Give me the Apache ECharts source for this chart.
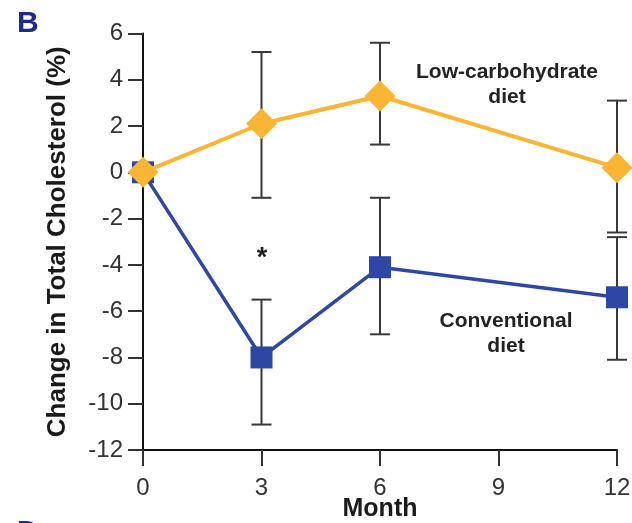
<!DOCTYPE html>
<html>
<head>
<meta charset="utf-8">
<script src="https://cdn.jsdelivr.net/npm/echarts@6/dist/echarts.min.js"></script>
<style>
html,body{margin:0;padding:0;background:#fff;}
#chart{width:632px;height:523px;}
</style>
</head>
<body>
<div id="chart"></div>
<script>
// ---- data ----
const months = [0, 3, 6, 12];
const xTicks = [0, 3, 6, 9, 12];
const yTicks = [-12, -10, -8, -6, -4, -2, 0, 2, 4, 6];

const lowCarbMean  = [0, 2.1, 3.3, 0.2];
const lowCarbLower = [0, -1.1, 1.2, -2.6];
const lowCarbUpper = [0, 5.2, 5.6, 3.1];

const convMean  = [0, -8.0, -4.1, -5.4];
const convLower = [0, -10.9, -7.0, -8.1];
const convUpper = [0, -5.5, -1.1, -2.8];

const yTitle = 'Change in Total Cholesterol (%)';
const xTitle = 'Month';
const lowCarbLabel = 'Low-carbohydrate\ndiet';
const convLabel = 'Conventional\ndiet';
const sigMark = '*';

// ---- styles ----
const FONT = '"Liberation Sans", Arial, Helvetica, sans-serif';
const ORANGE = '#fbb534';
const BLUE = '#2e46a4';
const ERR = '#383838';

function pairs(xs, ys) { return xs.map((x, i) => [x, ys[i]]); }
function errData(xs, lo, hi) { return xs.map((x, i) => [x, lo[i], hi[i]]); }

function errRender(params, api) {
  const x = api.value(0), lo = api.value(1), hi = api.value(2);
  if (lo === hi) return null;
  const pTop = api.coord([x, hi]);
  const pBot = api.coord([x, lo]);
  const w = 10;
  const st = { stroke: ERR, lineWidth: 2 };
  return {
    type: 'group',
    children: [
      { type: 'line', shape: { x1: pTop[0], y1: pTop[1], x2: pBot[0], y2: pBot[1] }, style: st },
      { type: 'line', shape: { x1: pTop[0] - w, y1: pTop[1], x2: pTop[0] + w, y2: pTop[1] }, style: st },
      { type: 'line', shape: { x1: pBot[0] - w, y1: pBot[1], x2: pBot[0] + w, y2: pBot[1] }, style: st }
    ]
  };
}

const chart = echarts.init(document.getElementById('chart'), null, { renderer: 'canvas' });

const option = {
  animation: false,
  backgroundColor: '#fff',
  grid: { left: 143, right: 15, top: 33.5, bottom: 73, outerBoundsMode: 'none', containLabel: false },
  xAxis: {
    type: 'value', min: xTicks[0], max: xTicks[xTicks.length - 1], interval: 3,
    name: xTitle, nameLocation: 'middle', nameGap: 47, nameMoveOverlap: false,
    nameTextStyle: { fontFamily: FONT, fontWeight: 'bold', fontSize: 25, color: '#1a1a1a' },
    axisLine: { show: true, onZero: false, lineStyle: { color: '#111', width: 2 } },
    axisTick: { show: true, inside: false, length: 16, lineStyle: { color: '#333', width: 2 } },
    axisLabel: { margin: 26, fontFamily: FONT, fontSize: 24, color: '#333' },
    splitLine: { show: false }
  },
  yAxis: {
    type: 'value', min: yTicks[0], max: yTicks[yTicks.length - 1], interval: 2,
    name: yTitle, nameLocation: 'middle', nameGap: 72, nameMoveOverlap: false,
    nameTextStyle: { fontFamily: FONT, fontWeight: 'bold', fontSize: 26, color: '#1a1a1a' },
    axisLine: { show: true, onZero: false, lineStyle: { color: '#111', width: 2 } },
    axisTick: { show: true, inside: false, length: 15, lineStyle: { color: '#333', width: 2 } },
    axisLabel: { margin: 20, fontFamily: FONT, fontSize: 24, color: '#333' },
    splitLine: { show: false }
  },
  series: [
    {
      type: 'custom', name: 'convErr', renderItem: errRender, clip: false, z: 2,
      encode: { x: 0, y: [1, 2] },
      data: errData(months, convLower, convUpper)
    },
    {
      type: 'custom', name: 'lowErr', renderItem: errRender, clip: false, z: 2,
      encode: { x: 0, y: [1, 2] },
      data: errData(months, lowCarbLower, lowCarbUpper)
    },
    {
      type: 'line', name: 'Conventional diet', clip: false, z: 3,
      data: pairs(months, convMean),
      symbol: 'rect', symbolSize: 22, showAllSymbol: true,
      lineStyle: { color: BLUE, width: 3.5 },
      itemStyle: { color: BLUE }
    },
    {
      type: 'line', name: 'Low-carbohydrate diet', clip: false, z: 4,
      data: pairs(months, lowCarbMean),
      symbol: 'diamond', symbolSize: 31, showAllSymbol: true,
      lineStyle: { color: ORANGE, width: 4 },
      itemStyle: { color: ORANGE }
    }
  ],
  graphic: [
    { type: 'text', left: 17, top: 9, style: { text: 'B', font: 'bold 30px ' + FONT, fill: '#1c2a8c' } },
    { type: 'text', left: 17, top: 518, style: { text: 'D', font: 'bold 30px ' + FONT, fill: '#1c2a8c' } },
    { type: 'text', x: 507, y: 85, z: 10, style: { text: lowCarbLabel, font: 'bold 21px ' + FONT, fill: '#222', align: 'center', verticalAlign: 'middle', lineHeight: 25 } },
    { type: 'text', x: 506, y: 334, z: 10, style: { text: convLabel, font: 'bold 21px ' + FONT, fill: '#222', align: 'center', verticalAlign: 'middle', lineHeight: 25 } },
    { type: 'text', x: 262, y: 259, z: 10, style: { text: sigMark, font: 'bold 27px ' + FONT, fill: '#222', align: 'center', verticalAlign: 'middle' } }
  ]
};

chart.setOption(option);
</script>
</body>
</html>
